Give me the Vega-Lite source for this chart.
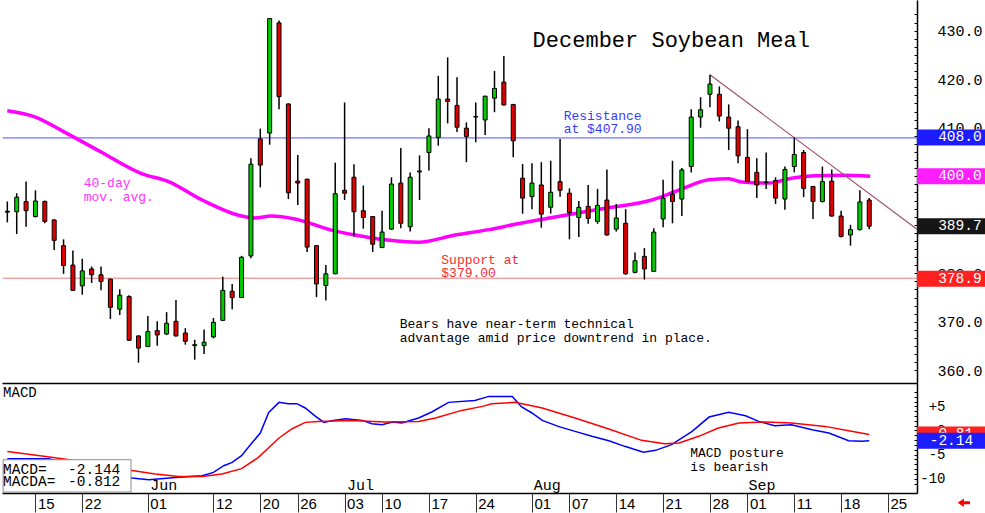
{
"$schema":"https://vega.github.io/schema/vega-lite/v6.json",
"padding":0,
"spacing":0,
"background":"#ffffff",
"config":{"view":{"stroke":null},"font":"Liberation Mono","concat":{"spacing":0},"scale":{"continuousPadding":0}},
"datasets":{
"candles":[
{"i":0,"date":"2023-05-10","open":392.8,"high":394.8,"low":390.5,"close":392.6},
{"i":1,"date":"2023-05-11","open":392.7,"high":396.5,"low":388.1,"close":395.7},
{"i":2,"date":"2023-05-12","open":394.8,"high":398.9,"low":389.6,"close":392.9},
{"i":3,"date":"2023-05-15","open":391.7,"high":397.1,"low":391.5,"close":394.9},
{"i":4,"date":"2023-05-16","open":394.8,"high":395.0,"low":390.3,"close":390.7},
{"i":5,"date":"2023-05-17","open":391.0,"high":391.1,"low":384.8,"close":386.8},
{"i":6,"date":"2023-05-18","open":385.7,"high":387.0,"low":379.9,"close":381.6},
{"i":7,"date":"2023-05-19","open":381.7,"high":384.7,"low":376.4,"close":376.5},
{"i":8,"date":"2023-05-22","open":377.4,"high":383.0,"low":375.6,"close":380.5},
{"i":9,"date":"2023-05-23","open":380.9,"high":381.4,"low":378.0,"close":379.7},
{"i":10,"date":"2023-05-24","open":379.7,"high":381.4,"low":376.5,"close":378.3},
{"i":11,"date":"2023-05-25","open":378.8,"high":378.9,"low":370.6,"close":373.0},
{"i":12,"date":"2023-05-26","open":372.6,"high":376.7,"low":371.4,"close":375.5},
{"i":13,"date":"2023-05-30","open":375.2,"high":375.5,"low":366.1,"close":366.2},
{"i":14,"date":"2023-05-31","open":367.1,"high":367.2,"low":361.6,"close":364.6},
{"i":15,"date":"2023-06-01","open":364.9,"high":371.2,"low":364.8,"close":368.0},
{"i":16,"date":"2023-06-02","open":368.2,"high":370.1,"low":365.1,"close":367.3},
{"i":17,"date":"2023-06-05","open":367.5,"high":372.0,"low":367.3,"close":369.7},
{"i":18,"date":"2023-06-06","open":370.1,"high":374.5,"low":367.0,"close":367.1},
{"i":19,"date":"2023-06-07","open":367.7,"high":368.7,"low":365.3,"close":366.0},
{"i":20,"date":"2023-06-08","open":365.1,"high":366.3,"low":362.2,"close":365.3},
{"i":21,"date":"2023-06-09","open":365.1,"high":368.4,"low":363.4,"close":365.8},
{"i":22,"date":"2023-06-12","open":366.9,"high":370.8,"low":366.6,"close":369.9},
{"i":23,"date":"2023-06-13","open":370.3,"high":379.3,"low":370.2,"close":376.5},
{"i":24,"date":"2023-06-14","open":376.3,"high":377.8,"low":372.6,"close":375.0},
{"i":25,"date":"2023-06-15","open":375.0,"high":383.6,"low":374.9,"close":383.3},
{"i":26,"date":"2023-06-16","open":383.6,"high":403.7,"low":383.1,"close":402.5},
{"i":27,"date":"2023-06-20","open":407.7,"high":409.8,"low":397.7,"close":402.3},
{"i":28,"date":"2023-06-21","open":408.9,"high":432.6,"low":406.5,"close":432.5},
{"i":29,"date":"2023-06-22","open":431.6,"high":432.1,"low":413.8,"close":416.4},
{"i":30,"date":"2023-06-23","open":414.9,"high":415.0,"low":395.3,"close":396.6},
{"i":31,"date":"2023-06-26","open":399.0,"high":404.4,"low":394.1,"close":398.6},
{"i":32,"date":"2023-06-27","open":399.4,"high":399.5,"low":384.4,"close":385.4},
{"i":33,"date":"2023-06-28","open":385.7,"high":385.8,"low":375.1,"close":377.8},
{"i":34,"date":"2023-06-29","open":377.5,"high":381.7,"low":374.4,"close":379.9},
{"i":35,"date":"2023-06-30","open":379.9,"high":402.8,"low":379.8,"close":396.4},
{"i":36,"date":"2023-07-03","open":397.1,"high":415.2,"low":395.1,"close":396.5},
{"i":37,"date":"2023-07-05","open":399.8,"high":402.5,"low":387.6,"close":392.7},
{"i":38,"date":"2023-07-06","open":392.9,"high":398.1,"low":389.2,"close":391.5},
{"i":39,"date":"2023-07-07","open":391.7,"high":391.8,"low":384.4,"close":386.0},
{"i":40,"date":"2023-07-10","open":385.3,"high":392.9,"low":385.2,"close":388.5},
{"i":41,"date":"2023-07-11","open":389.1,"high":399.8,"low":389.0,"close":398.4},
{"i":42,"date":"2023-07-12","open":398.6,"high":405.8,"low":389.3,"close":390.3},
{"i":43,"date":"2023-07-13","open":389.6,"high":400.8,"low":388.6,"close":399.8},
{"i":44,"date":"2023-07-14","open":400.9,"high":404.3,"low":395.1,"close":401.1},
{"i":45,"date":"2023-07-17","open":404.9,"high":409.9,"low":401.2,"close":408.3},
{"i":46,"date":"2023-07-18","open":408.0,"high":420.7,"low":406.3,"close":415.9},
{"i":47,"date":"2023-07-19","open":415.9,"high":424.5,"low":410.9,"close":415.4},
{"i":48,"date":"2023-07-20","open":414.6,"high":420.4,"low":409.1,"close":410.1},
{"i":49,"date":"2023-07-21","open":409.9,"high":411.1,"low":402.9,"close":408.2},
{"i":50,"date":"2023-07-24","open":412.3,"high":415.2,"low":407.0,"close":412.2},
{"i":51,"date":"2023-07-25","open":411.6,"high":416.6,"low":408.5,"close":416.5},
{"i":52,"date":"2023-07-26","open":416.1,"high":421.7,"low":413.2,"close":418.1},
{"i":53,"date":"2023-07-27","open":419.4,"high":424.8,"low":414.6,"close":414.7},
{"i":54,"date":"2023-07-28","open":414.8,"high":414.9,"low":403.9,"close":407.3},
{"i":55,"date":"2023-07-31","open":399.6,"high":402.5,"low":392.3,"close":395.5},
{"i":56,"date":"2023-08-01","open":395.8,"high":402.7,"low":393.2,"close":398.6},
{"i":57,"date":"2023-08-02","open":398.2,"high":402.9,"low":389.4,"close":392.2},
{"i":58,"date":"2023-08-03","open":393.6,"high":403.2,"low":392.3,"close":396.7},
{"i":59,"date":"2023-08-04","open":398.9,"high":407.7,"low":395.8,"close":397.1},
{"i":60,"date":"2023-08-07","open":396.5,"high":397.5,"low":387.0,"close":392.5},
{"i":61,"date":"2023-08-08","open":391.5,"high":394.9,"low":387.5,"close":393.6},
{"i":62,"date":"2023-08-09","open":393.8,"high":398.2,"low":390.2,"close":391.3},
{"i":63,"date":"2023-08-10","open":390.7,"high":397.4,"low":390.2,"close":394.0},
{"i":64,"date":"2023-08-11","open":395.1,"high":401.4,"low":387.8,"close":387.9},
{"i":65,"date":"2023-08-14","open":389.1,"high":394.3,"low":388.6,"close":391.4},
{"i":66,"date":"2023-08-15","open":390.3,"high":393.2,"low":379.7,"close":379.9},
{"i":67,"date":"2023-08-16","open":380.2,"high":384.3,"low":380.0,"close":382.6},
{"i":68,"date":"2023-08-17","open":383.5,"high":385.2,"low":378.7,"close":380.9},
{"i":69,"date":"2023-08-18","open":380.4,"high":389.3,"low":380.3,"close":388.5},
{"i":70,"date":"2023-08-21","open":391.2,"high":399.3,"low":389.5,"close":395.5},
{"i":71,"date":"2023-08-22","open":396.3,"high":403.2,"low":390.3,"close":394.8},
{"i":72,"date":"2023-08-23","open":395.3,"high":401.7,"low":391.8,"close":401.3},
{"i":73,"date":"2023-08-24","open":402.0,"high":413.8,"low":400.8,"close":412.2},
{"i":74,"date":"2023-08-25","open":412.2,"high":416.3,"low":410.0,"close":413.7},
{"i":75,"date":"2023-08-28","open":416.9,"high":420.9,"low":414.2,"close":419.0},
{"i":76,"date":"2023-08-29","open":416.9,"high":418.5,"low":411.3,"close":412.4},
{"i":77,"date":"2023-08-30","open":412.2,"high":414.8,"low":405.4,"close":409.9},
{"i":78,"date":"2023-08-31","open":410.2,"high":411.5,"low":402.7,"close":404.2},
{"i":79,"date":"2023-09-01","open":403.9,"high":409.7,"low":398.8,"close":398.9},
{"i":80,"date":"2023-09-05","open":400.8,"high":403.7,"low":395.5,"close":398.2},
{"i":81,"date":"2023-09-06","open":398.8,"high":404.9,"low":397.4,"close":398.7},
{"i":82,"date":"2023-09-07","open":399.1,"high":399.8,"low":394.3,"close":395.5},
{"i":83,"date":"2023-09-08","open":395.3,"high":402.0,"low":393.1,"close":401.4},
{"i":84,"date":"2023-09-11","open":402.0,"high":408.0,"low":400.8,"close":404.5},
{"i":85,"date":"2023-09-12","open":404.9,"high":405.4,"low":395.7,"close":397.5},
{"i":86,"date":"2023-09-13","open":397.9,"high":398.0,"low":391.2,"close":394.8},
{"i":87,"date":"2023-09-14","open":394.8,"high":402.0,"low":394.6,"close":398.9},
{"i":88,"date":"2023-09-15","open":399.0,"high":401.4,"low":391.7,"close":391.8},
{"i":89,"date":"2023-09-18","open":391.8,"high":392.9,"low":387.4,"close":387.6},
{"i":90,"date":"2023-09-19","open":387.9,"high":390.0,"low":385.7,"close":389.0},
{"i":91,"date":"2023-09-20","open":389.0,"high":397.1,"low":388.8,"close":394.7},
{"i":92,"date":"2023-09-21","open":395.1,"high":395.5,"low":389.1,"close":389.7}
],
"ma40":[
{"i":0,"v":413.5},{"i":3,"v":412.2},{"i":6,"v":409.2},{"i":10.1,"v":404.9},{"i":14.4,"v":400.5},{"i":17.2,"v":398.9},{"i":20.8,"v":395.1},{"i":25,"v":391.8},{"i":26.4,"v":391.4},{"i":28.2,"v":391.8},{"i":30.7,"v":391.2},{"i":34.6,"v":388.9},{"i":37.1,"v":387.9},{"i":40.3,"v":386.9},{"i":43.9,"v":386.4},{"i":47.8,"v":387.9},{"i":51.4,"v":389.0},{"i":54.2,"v":390.1},{"i":58.5,"v":391.6},{"i":63.8,"v":393.4},{"i":68.8,"v":395.1},{"i":69.9,"v":395.8},{"i":72,"v":397.4},{"i":74.9,"v":399.3},{"i":77,"v":399.5},{"i":78.4,"v":398.8},{"i":81.3,"v":398.6},{"i":83.7,"v":399.6},{"i":86.2,"v":400.1},{"i":89.1,"v":400.2},{"i":92.1,"v":400.0}
],
"macd":[
{"i":0,"v":-5.84},{"i":4.4,"v":-5.84},{"i":13.3,"v":-9.84},{"i":15.1,"v":-10.2},{"i":18.3,"v":-9.7},{"i":20.8,"v":-9.36},{"i":22.0,"v":-8.67},{"i":23.1,"v":-7.29},{"i":24.0,"v":-6.6},{"i":25.0,"v":-5.22},{"i":26.1,"v":-2.6},{"i":27.0,"v":-0.52},{"i":27.9,"v":3.75},{"i":29.0,"v":5.82},{"i":30.0,"v":5.55},{"i":30.9,"v":5.55},{"i":31.8,"v":4.66},{"i":32.9,"v":2.92},{"i":33.8,"v":1.68},{"i":34.8,"v":2.09},{"i":36.1,"v":2.44},{"i":37.9,"v":2.09},{"i":38.9,"v":1.41},{"i":40.0,"v":1.2},{"i":41.1,"v":1.76},{"i":42.1,"v":1.55},{"i":43.9,"v":2.59},{"i":45.3,"v":3.83},{"i":47.1,"v":5.82},{"i":49.9,"v":6.23},{"i":51.4,"v":7.06},{"i":53.9,"v":7.06},{"i":54.9,"v":4.86},{"i":56.0,"v":3.62},{"i":57.1,"v":2.09},{"i":58.8,"v":0.85},{"i":60.6,"v":-0.18},{"i":62.4,"v":-1.21},{"i":64.2,"v":-2.11},{"i":65.9,"v":-3.28},{"i":67.9,"v":-4.52},{"i":69.2,"v":-4.11},{"i":70.9,"v":-2.93},{"i":73.1,"v":-0.18},{"i":74.9,"v":2.78},{"i":77.0,"v":3.75},{"i":78.8,"v":3.06},{"i":80.2,"v":1.88},{"i":81.9,"v":0.99},{"i":83.7,"v":1.2},{"i":85.9,"v":0.17},{"i":87.7,"v":-0.52},{"i":89.8,"v":-2.11},{"i":91.2,"v":-2.25},{"i":92.0,"v":-2.14}
],
"macda":[
{"i":0,"v":-4.33},{"i":4.1,"v":-5.36},{"i":6.6,"v":-6.05},{"i":13.3,"v":-8.26},{"i":15.8,"v":-9.0},{"i":18.3,"v":-9.5},{"i":20.8,"v":-9.5},{"i":22.9,"v":-9.0},{"i":25.0,"v":-7.9},{"i":26.8,"v":-5.57},{"i":29.0,"v":-1.55},{"i":30.4,"v":0.37},{"i":31.8,"v":1.68},{"i":33.2,"v":1.88},{"i":36.8,"v":2.09},{"i":40.3,"v":1.76},{"i":43.9,"v":1.88},{"i":45.7,"v":2.59},{"i":48.5,"v":4.16},{"i":50.7,"v":4.99},{"i":51.7,"v":5.55},{"i":54.2,"v":5.82},{"i":57.1,"v":4.66},{"i":60.6,"v":2.59},{"i":64.2,"v":0.31},{"i":67.7,"v":-2.04},{"i":70.2,"v":-2.73},{"i":71.7,"v":-2.59},{"i":73.8,"v":-1.21},{"i":75.9,"v":0.52},{"i":78.1,"v":1.55},{"i":80.9,"v":1.76},{"i":83.7,"v":1.55},{"i":87.3,"v":0.85},{"i":90.1,"v":-0.18},{"i":92.0,"v":-0.81}
]
},
"vconcat":[
{
"width":915,"height":383,
"layer":[
{"data":{"values":[{"i":-0.5,"i2":97.1,"v":407.9}]},
 "mark":{"type":"rule","color":"#4d4dff","strokeWidth":1},
 "encoding":{
  "x":{"field":"i","type":"quantitative","title":null,"scale":{"domain":[-0.57,97.1],"nice":false,"zero":false},"axis":{"orient":"bottom","labels":false,"ticks":false,"grid":false,"domain":true,"domainColor":"#000000","domainWidth":1.5,"title":null}},
  "x2":{"field":"i2"},
  "y":{"field":"v","type":"quantitative","title":null,"scale":{"domain":[357.4,436.32],"nice":false,"zero":false},
   "axis":{"orient":"right","title":null,"grid":false,"tickCount":200,
    "values":[360,361.667,363.333,365,366.667,368.333,370,371.667,373.333,375,376.667,378.333,380,381.667,383.333,385,386.667,388.333,390,391.667,393.333,395,396.667,398.333,400,401.667,403.333,405,406.667,408.333,410,411.667,413.333,415,416.667,418.333,420,421.667,423.333,425,426.667,428.333,430,431.667,433.333],
    "labelExpr":"(abs(datum.value % 10) < 0.01 || abs(datum.value % 10) > 9.99) ? format(datum.value, '.1f') : ''",
    "tickSize":-3,"tickColor":"#000000","tickWidth":1,"domainColor":"#000000","domainWidth":1.5,
    "labelPadding":23,"labelAlign":"left","labelBaseline":"middle","labelFont":"Liberation Mono","labelFontSize":15,"labelColor":"#000000","labelOverlap":false,"labelFlush":false,"labelBound":false}}
 }},
{"data":{"values":[{"i":-0.5,"i2":97.1,"v":379.0}]},
 "mark":{"type":"rule","color":"#f07878","strokeWidth":1},
 "encoding":{
  "x":{"field":"i","type":"quantitative","title":null,"scale":{"domain":[-0.57,97.1],"nice":false,"zero":false}},
  "x2":{"field":"i2"},
  "y":{"field":"v","type":"quantitative","title":null,"scale":{"domain":[357.4,436.32],"nice":false,"zero":false}}}},
{"data":{"name":"ma40"},
 "mark":{"type":"line","color":"#ff00ff","strokeWidth":3.5,"interpolate":"monotone"},
 "encoding":{
  "x":{"field":"i","type":"quantitative","title":null,"scale":{"domain":[-0.57,97.1],"nice":false,"zero":false}},
  "y":{"field":"v","type":"quantitative","title":null,"scale":{"domain":[357.4,436.32],"nice":false,"zero":false}}}},
{"data":{"values":[{"i":75,"v":420.9},{"i":97.1,"v":389.1}]},
 "mark":{"type":"line","color":"#a0506e","strokeWidth":1.2},
 "encoding":{
  "x":{"field":"i","type":"quantitative","title":null,"scale":{"domain":[-0.57,97.1],"nice":false,"zero":false}},
  "y":{"field":"v","type":"quantitative","title":null,"scale":{"domain":[357.4,436.32],"nice":false,"zero":false}}}},
{"data":{"name":"candles"},
 "mark":{"type":"rule","color":"#000000","strokeWidth":1.5},
 "encoding":{
  "x":{"field":"i","type":"quantitative","title":null,"scale":{"domain":[-0.57,97.1],"nice":false,"zero":false}},
  "y":{"field":"low","type":"quantitative","title":null,"scale":{"domain":[357.4,436.32],"nice":false,"zero":false}},
  "y2":{"field":"high"}}},
{"data":{"name":"candles"},
 "mark":{"type":"bar","size":4,"stroke":"#000000","strokeWidth":1},
 "encoding":{
  "x":{"field":"i","type":"quantitative","title":null,"scale":{"domain":[-0.57,97.1],"nice":false,"zero":false}},
  "y":{"field":"open","type":"quantitative","title":null,"scale":{"domain":[357.4,436.32],"nice":false,"zero":false}},
  "y2":{"field":"close"},
  "fill":{"condition":{"test":"datum.close >= datum.open","value":"#00cc00"},"value":"#e00000"}}},
{"data":{"values":[{"i":56.07,"v":428.1,"t":"December Soybean Meal"}]},
 "mark":{"type":"text","font":"Liberation Mono","fontSize":22,"align":"left","baseline":"middle","color":"#000000"},
 "encoding":{
  "x":{"field":"i","type":"quantitative","title":null,"scale":{"domain":[-0.57,97.1],"nice":false,"zero":false}},
  "y":{"field":"v","type":"quantitative","title":null,"scale":{"domain":[357.4,436.32],"nice":false,"zero":false}},
  "text":{"field":"t"}}},
{"data":{"values":[{"i":8.15,"v":398.64,"t":"40-day"},{"i":8.15,"v":395.76,"t":"mov. avg."}]},
 "mark":{"type":"text","font":"Liberation Mono","fontSize":13,"align":"left","baseline":"middle","color":"#ff33ff"},
 "encoding":{
  "x":{"field":"i","type":"quantitative","title":null,"scale":{"domain":[-0.57,97.1],"nice":false,"zero":false}},
  "y":{"field":"v","type":"quantitative","title":null,"scale":{"domain":[357.4,436.32],"nice":false,"zero":false}},
  "text":{"field":"t"}}},
{"data":{"values":[{"i":59.38,"v":412.44,"t":"Resistance"},{"i":59.38,"v":409.76,"t":"at $407.90"}]},
 "mark":{"type":"text","font":"Liberation Mono","fontSize":13,"align":"left","baseline":"middle","color":"#3a3aff"},
 "encoding":{
  "x":{"field":"i","type":"quantitative","title":null,"scale":{"domain":[-0.57,97.1],"nice":false,"zero":false}},
  "y":{"field":"v","type":"quantitative","title":null,"scale":{"domain":[357.4,436.32],"nice":false,"zero":false}},
  "text":{"field":"t"}}},
{"data":{"values":[{"i":46.32,"v":382.79,"t":"Support at"},{"i":46.32,"v":380.11,"t":"$379.00"}]},
 "mark":{"type":"text","font":"Liberation Mono","fontSize":13,"align":"left","baseline":"middle","color":"#ff2a2a"},
 "encoding":{
  "x":{"field":"i","type":"quantitative","title":null,"scale":{"domain":[-0.57,97.1],"nice":false,"zero":false}},
  "y":{"field":"v","type":"quantitative","title":null,"scale":{"domain":[357.4,436.32],"nice":false,"zero":false}},
  "text":{"field":"t"}}},
{"data":{"values":[{"i":41.88,"v":369.51,"t":"Bears have near-term technical"},{"i":41.88,"v":366.63,"t":"advantage amid price downtrend in place."}]},
 "mark":{"type":"text","font":"Liberation Mono","fontSize":13,"align":"left","baseline":"middle","color":"#000000"},
 "encoding":{
  "x":{"field":"i","type":"quantitative","title":null,"scale":{"domain":[-0.57,97.1],"nice":false,"zero":false}},
  "y":{"field":"v","type":"quantitative","title":null,"scale":{"domain":[357.4,436.32],"nice":false,"zero":false}},
  "text":{"field":"t"}}},
{"data":{"values":[{"i":97.1,"i2":104.6,"v":408.0,"name":"resistance"},{"i":97.1,"i2":104.6,"v":400.0,"name":"ma40"},{"i":97.1,"i2":104.6,"v":389.7,"name":"last"},{"i":97.1,"i2":104.6,"v":378.9,"name":"support"}]},
 "mark":{"type":"bar","size":16,"orient":"horizontal"},
 "encoding":{
  "x":{"field":"i","type":"quantitative","title":null,"scale":{"domain":[-0.57,97.1],"nice":false,"zero":false}},
  "x2":{"field":"i2"},
  "y":{"field":"v","type":"quantitative","title":null,"scale":{"domain":[357.4,436.32],"nice":false,"zero":false}},
  "fill":{"field":"name","type":"nominal","scale":{"domain":["resistance","ma40","last","support"],"range":["#1c1cff","#ff1cff","#161616","#ff2020"]},"legend":null}}},
{"data":{"values":[{"it":104.0,"v":408.0,"t":"408.0"},{"it":104.0,"v":400.0,"t":"400.0"},{"it":104.0,"v":389.7,"t":"389.7"},{"it":104.0,"v":378.9,"t":"378.9"}]},
 "mark":{"type":"text","font":"Liberation Mono","fontSize":14.5,"align":"right","baseline":"middle","color":"#ffffff"},
 "encoding":{
  "x":{"field":"it","type":"quantitative","title":null,"scale":{"domain":[-0.57,97.1],"nice":false,"zero":false}},
  "y":{"field":"v","type":"quantitative","title":null,"scale":{"domain":[357.4,436.32],"nice":false,"zero":false}},
  "text":{"field":"t"}}}
]
},
{
"width":915,"height":110,
"layer":[
{"data":{"name":"macd"},
 "mark":{"type":"line","color":"#0000ff","strokeWidth":1.5},
 "encoding":{
  "x":{"field":"i","type":"quantitative","title":null,"scale":{"domain":[-0.57,97.1],"nice":false,"zero":false},
   "axis":{"orient":"bottom","title":null,"grid":false,"tickCount":200,
    "values":[3,8,15,22,27,31,36,40,45,50,56,60,65,70,75,79,84,89,94],
    "labelExpr":"{'3':'15','8':'22','15':'01','22':'12','27':'20','31':'26','36':'03','40':'10','45':'17','50':'24','56':'01','60':'07','65':'14','70':'21','75':'28','79':'01','84':'11','89':'18','94':'25'}[datum.value]",
    "tickSize":19,"tickColor":"#333333","tickWidth":1,"domainColor":"#000000","domainWidth":1.5,
    "labelAlign":"left","labelBaseline":"top","labelOffset":2,"labelPadding":-16,"labelFont":"Liberation Sans","labelFontSize":15,"labelColor":"#000000","labelOverlap":false,"labelFlush":false,"labelBound":false}},
  "y":{"field":"v","type":"quantitative","title":null,"scale":{"domain":[-12.94,9.83],"nice":false,"zero":false},
   "axis":{"orient":"right","title":null,"grid":false,"tickCount":200,
    "values":[-11,-10,-9,-8,-7,-6,-5,-4,-3,-2,-1,0,1,2,3,4,5,6,7,8],
    "labelExpr":"datum.value % 5 == 0 ? (datum.value > 0 ? '+' + datum.value : '' + datum.value) : ''",
    "tickSize":-3,"tickColor":"#000000","tickWidth":1,"domainColor":"#000000","domainWidth":1.5,
    "labelPadding":31,"labelAlign":"right","labelBaseline":"middle","labelFont":"Liberation Mono","labelFontSize":14,"labelColor":"#000000","labelOverlap":false,"labelFlush":false,"labelBound":false}}}},
{"data":{"name":"macda"},
 "mark":{"type":"line","color":"#ff0000","strokeWidth":1.5},
 "encoding":{
  "x":{"field":"i","type":"quantitative","title":null,"scale":{"domain":[-0.57,97.1],"nice":false,"zero":false}},
  "y":{"field":"v","type":"quantitative","title":null,"scale":{"domain":[-12.94,9.83],"nice":false,"zero":false}}}},
{"data":{"values":[{"i":-0.45,"i2":13.2,"v":-6.05,"v2":-12.73}]},
 "mark":{"type":"rect","fill":"#ffffff","stroke":"#8c8c8c","strokeWidth":1},
 "encoding":{
  "x":{"field":"i","type":"quantitative","title":null,"scale":{"domain":[-0.57,97.1],"nice":false,"zero":false}},
  "x2":{"field":"i2"},
  "y":{"field":"v","type":"quantitative","title":null,"scale":{"domain":[-12.94,9.83],"nice":false,"zero":false}},
  "y2":{"field":"v2"}}},
{"data":{"values":[{"i":-0.45,"v":-8.26,"t":"MACD="},{"i":-0.45,"v":-10.75,"t":"MACDA="}]},
 "mark":{"type":"text","font":"Liberation Mono","fontSize":14.5,"align":"left","baseline":"middle","color":"#000000"},
 "encoding":{
  "x":{"field":"i","type":"quantitative","title":null,"scale":{"domain":[-0.57,97.1],"nice":false,"zero":false}},
  "y":{"field":"v","type":"quantitative","title":null,"scale":{"domain":[-12.94,9.83],"nice":false,"zero":false}},
  "text":{"field":"t"}}},
{"data":{"values":[{"i":12.06,"v":-8.26,"t":"-2.144"},{"i":12.06,"v":-10.75,"t":"-0.812"}]},
 "mark":{"type":"text","font":"Liberation Mono","fontSize":14.5,"align":"right","baseline":"middle","color":"#000000"},
 "encoding":{
  "x":{"field":"i","type":"quantitative","title":null,"scale":{"domain":[-0.57,97.1],"nice":false,"zero":false}},
  "y":{"field":"v","type":"quantitative","title":null,"scale":{"domain":[-12.94,9.83],"nice":false,"zero":false}},
  "text":{"field":"t"}}},
{"data":{"values":[{"i":-0.45,"v":7.83,"t":"MACD"}]},
 "mark":{"type":"text","font":"Liberation Mono","fontSize":14,"align":"left","baseline":"middle","color":"#000000"},
 "encoding":{
  "x":{"field":"i","type":"quantitative","title":null,"scale":{"domain":[-0.57,97.1],"nice":false,"zero":false}},
  "y":{"field":"v","type":"quantitative","title":null,"scale":{"domain":[-12.94,9.83],"nice":false,"zero":false}},
  "text":{"field":"t"}}},
{"data":{"values":[{"i":15.26,"v":-11.22,"t":"Jun"},{"i":36.25,"v":-11.22,"t":"Jul"},{"i":56.18,"v":-11.22,"t":"Aug"},{"i":79.12,"v":-11.22,"t":"Sep"}]},
 "mark":{"type":"text","font":"Liberation Mono","fontSize":15,"align":"left","baseline":"middle","color":"#000000"},
 "encoding":{
  "x":{"field":"i","type":"quantitative","title":null,"scale":{"domain":[-0.57,97.1],"nice":false,"zero":false}},
  "y":{"field":"v","type":"quantitative","title":null,"scale":{"domain":[-12.94,9.83],"nice":false,"zero":false}},
  "text":{"field":"t"}}},
{"data":{"values":[{"i":72.89,"v":-4.7,"t":"MACD posture"},{"i":72.89,"v":-7.49,"t":" is bearish"}]},
 "mark":{"type":"text","font":"Liberation Mono","fontSize":13,"align":"left","baseline":"middle","color":"#000000"},
 "encoding":{
  "x":{"field":"i","type":"quantitative","title":null,"scale":{"domain":[-0.57,97.1],"nice":false,"zero":false}},
  "y":{"field":"v","type":"quantitative","title":null,"scale":{"domain":[-12.94,9.83],"nice":false,"zero":false}},
  "text":{"field":"t"}}},
{"data":{"values":[{"i":97.1,"i2":104.6,"v":-0.81}]},
 "mark":{"type":"bar","size":16,"orient":"horizontal","fill":"#ff2020"},
 "encoding":{
  "x":{"field":"i","type":"quantitative","title":null,"scale":{"domain":[-0.57,97.1],"nice":false,"zero":false}},
  "x2":{"field":"i2"},
  "y":{"field":"v","type":"quantitative","title":null,"scale":{"domain":[-12.94,9.83],"nice":false,"zero":false}}}},
{"data":{"values":[{"it":103.1,"v":-0.81,"t":"-0.81"}]},
 "mark":{"type":"text","font":"Liberation Mono","fontSize":14.5,"align":"right","baseline":"middle","color":"#ffffff"},
 "encoding":{
  "x":{"field":"it","type":"quantitative","title":null,"scale":{"domain":[-0.57,97.1],"nice":false,"zero":false}},
  "y":{"field":"v","type":"quantitative","title":null,"scale":{"domain":[-12.94,9.83],"nice":false,"zero":false}},
  "text":{"field":"t"}}},
{"data":{"values":[{"i":97.1,"i2":104.6,"v":-2.14}]},
 "mark":{"type":"bar","size":16,"orient":"horizontal","fill":"#1c1cff"},
 "encoding":{
  "x":{"field":"i","type":"quantitative","title":null,"scale":{"domain":[-0.57,97.1],"nice":false,"zero":false}},
  "x2":{"field":"i2"},
  "y":{"field":"v","type":"quantitative","title":null,"scale":{"domain":[-12.94,9.83],"nice":false,"zero":false}}}},
{"data":{"values":[{"it":103.1,"v":-2.14,"t":"-2.14"}]},
 "mark":{"type":"text","font":"Liberation Mono","fontSize":14.5,"align":"right","baseline":"middle","color":"#ffffff"},
 "encoding":{
  "x":{"field":"it","type":"quantitative","title":null,"scale":{"domain":[-0.57,97.1],"nice":false,"zero":false}},
  "y":{"field":"v","type":"quantitative","title":null,"scale":{"domain":[-12.94,9.83],"nice":false,"zero":false}},
  "text":{"field":"t"}}},
{"data":{"values":[{"i":102.1,"v":-14.95}]},
 "mark":{"type":"point","shape":"M -1 0 L 0 -0.7 L 0 -0.25 L 1 -0.25 L 1 0.25 L 0 0.25 L 0 0.7 Z","size":150,"filled":true,"color":"#ff0000","opacity":1},
 "encoding":{
  "x":{"field":"i","type":"quantitative","title":null,"scale":{"domain":[-0.57,97.1],"nice":false,"zero":false}},
  "y":{"field":"v","type":"quantitative","title":null,"scale":{"domain":[-12.94,9.83],"nice":false,"zero":false}}}}
]
}
]
}
